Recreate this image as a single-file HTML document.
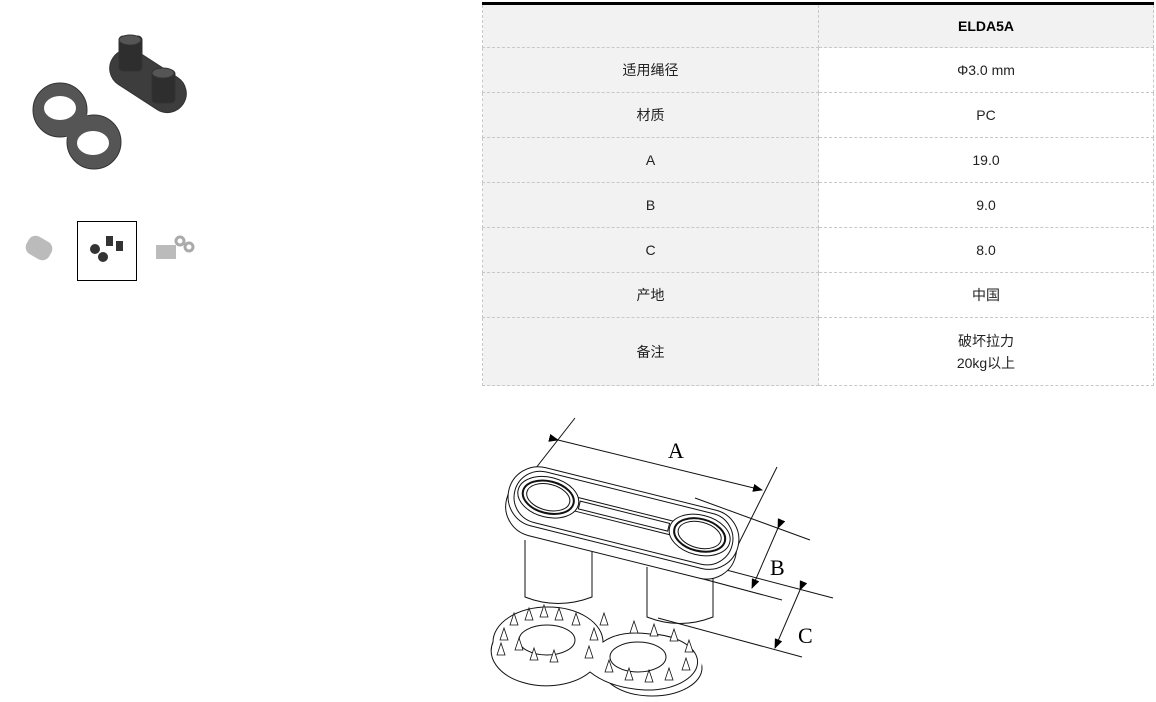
<!DOCTYPE html>
<html><head><meta charset="utf-8"><style>
body{margin:0;width:1156px;height:702px;background:#fff;position:relative;overflow:hidden;font-family:"Liberation Sans","Noto Sans CJK SC",sans-serif;}
table{position:absolute;left:482px;top:2px;width:672px;border-collapse:collapse;border-top:3px solid #000;font-size:14px;color:#222;}
td{border:1px dashed #c8c8c8;text-align:center;padding:0;}
td.l{background:#f2f2f2;width:335px;}
tr.h td{background:#f2f2f2;font-weight:bold;color:#000;height:42px;}
tr td{height:44px;}
</style></head><body>
<svg width="480" height="300" style="position:absolute;left:0;top:0">
 <g fill="#555" stroke="#333">
  <rect x="106" y="62" width="84" height="38" rx="19" transform="rotate(33 148 81)" fill="#3d3d3d"/>
  <rect x="119" y="36" width="23" height="35" rx="4" fill="#2e2e2e"/>
  <ellipse cx="130" cy="40" rx="11" ry="5" fill="#555"/>
  <rect x="152" y="70" width="23" height="33" rx="4" fill="#2e2e2e"/>
  <ellipse cx="163" cy="73" rx="11" ry="5" fill="#555"/>
  <circle cx="60" cy="110" r="27" fill="#555"/>
  <circle cx="94" cy="142" r="27" fill="#555"/>
  <rect x="55" y="110" width="42" height="30" fill="#555" stroke="none" transform="rotate(40 76 125)"/>
 </g>
 <ellipse cx="60" cy="108" rx="16" ry="12" fill="#fff"/>
 <ellipse cx="93" cy="143" rx="16" ry="12" fill="#fff"/>
 <g fill="#bbb"><rect x="26" y="238" width="26" height="20" rx="8" transform="rotate(30 39 248)"/></g>
 <rect x="77.5" y="221.5" width="59" height="59" fill="none" stroke="#000"/>
 <g fill="#333"><circle cx="95" cy="249" r="5"/><circle cx="103" cy="257" r="5"/><rect x="106" y="236" width="7" height="10"/><rect x="116" y="241" width="7" height="10"/></g>
 <g fill="none" stroke="#aaa" stroke-width="3"><circle cx="180" cy="241" r="4"/><circle cx="189" cy="247" r="4"/></g>
 <rect x="156" y="245" width="20" height="14" fill="#bbb"/>
</svg>
<table>
<tr class="h"><td class="l"></td><td>ELDA5A</td></tr>
<tr><td class="l">适用绳径</td><td>Φ3.0 mm</td></tr>
<tr><td class="l">材质</td><td>PC</td></tr>
<tr><td class="l">A</td><td>19.0</td></tr>
<tr><td class="l">B</td><td>9.0</td></tr>
<tr><td class="l">C</td><td>8.0</td></tr>
<tr><td class="l">产地</td><td>中国</td></tr>
<tr><td class="l" style="height:67px">备注</td><td style="line-height:22px">破坏拉力<br>20kg以上</td></tr>
</table>
<svg width="1156" height="702" style="position:absolute;left:0;top:0" fill="none" stroke="#111" stroke-width="1">
 <defs><marker id="a" markerWidth="10" markerHeight="8" refX="9" refY="4" orient="auto" markerUnits="userSpaceOnUse"><path d="M0,0 L10,4 L0,8Z" fill="#000" stroke="none"/></marker></defs>
 <line x1="575" y1="418" x2="507" y2="505"/>
 <line x1="777" y1="467" x2="737" y2="547"/>
 <line x1="558" y1="440" x2="762" y2="490" marker-start="url(#a)" marker-end="url(#a)"/>
 <line x1="695" y1="498" x2="810" y2="540"/>
 <line x1="715" y1="567" x2="833" y2="598"/>
 <line x1="632" y1="560" x2="782" y2="600"/>
 <line x1="658" y1="618" x2="802" y2="657"/>
 <line x1="778" y1="528" x2="752" y2="588" marker-start="url(#a)" marker-end="url(#a)"/>
 <line x1="800" y1="590" x2="775" y2="648" marker-start="url(#a)" marker-end="url(#a)"/>
 <g fill="#000" stroke="none" font-family="Liberation Serif,serif" font-size="22"><text x="668" y="458">A</text><text x="770" y="575">B</text><text x="798" y="643">C</text></g>
 <path d="M525,540 V597 Q558,610 592,597 V540"/>
 <path d="M647,567 V617 Q680,630 713,617 V567"/>
 <g transform="translate(623,520) rotate(14)" fill="#fff">
  <rect x="-118" y="-22" width="236" height="60" rx="30"/>
  <rect x="-118" y="-32" width="236" height="60" rx="30"/>
  <rect x="-112" y="-28" width="224" height="52" rx="26"/>
  <rect x="-50" y="-11" width="100" height="14"/>
  <rect x="-46" y="-8" width="92" height="8"/>
  <ellipse cx="-78" cy="-4" rx="31" ry="20"/><ellipse cx="-78" cy="-4" rx="26" ry="16" stroke-width="2"/><ellipse cx="-78" cy="-4" rx="22" ry="13"/>
  <ellipse cx="78" cy="-4" rx="31" ry="20"/><ellipse cx="78" cy="-4" rx="26" ry="16" stroke-width="2"/><ellipse cx="78" cy="-4" rx="22" ry="13"/>
 </g>
 <g fill="#fff">
  <ellipse cx="548" cy="648" rx="55" ry="35"/><ellipse cx="652" cy="668" rx="50" ry="28"/>
  <ellipse cx="548" cy="642" rx="55" ry="35" stroke="none"/><ellipse cx="652" cy="662" rx="50" ry="28" stroke="none"/>
  <path d="M493,642 A55,35 0 0 1 603,642 Q620,630 650,634 A50,28 0 1 1 645,690 Q610,688 590,672 A55,35 0 0 1 493,642Z"/>
  <ellipse cx="547" cy="640" rx="28" ry="15"/><ellipse cx="638" cy="657" rx="28" ry="15"/>
 </g>
 <g fill="#fff" stroke-width="0.8">
  <path d="M510,625 l4,-12 l4,12z"/><path d="M525,620 l4,-12 l4,12z"/><path d="M540,617 l4,-12 l4,12z"/><path d="M555,620 l4,-12 l4,12z"/><path d="M572,625 l4,-12 l4,12z"/>
  <path d="M500,640 l4,-12 l4,12z"/><path d="M497,655 l4,-12 l4,12z"/><path d="M515,650 l4,-12 l4,12z"/><path d="M530,660 l4,-12 l4,12z"/><path d="M550,662 l4,-12 l4,12z"/>
  <path d="M590,640 l4,-12 l4,12z"/><path d="M600,625 l4,-12 l4,12z"/><path d="M585,658 l4,-12 l4,12z"/>
  <path d="M630,633 l4,-12 l4,12z"/><path d="M650,636 l4,-12 l4,12z"/><path d="M670,641 l4,-12 l4,12z"/><path d="M685,652 l4,-12 l4,12z"/>
  <path d="M605,672 l4,-12 l4,12z"/><path d="M625,680 l4,-12 l4,12z"/><path d="M645,682 l4,-12 l4,12z"/><path d="M665,680 l4,-12 l4,12z"/><path d="M682,670 l4,-12 l4,12z"/>
 </g>
</svg>
</body></html>
